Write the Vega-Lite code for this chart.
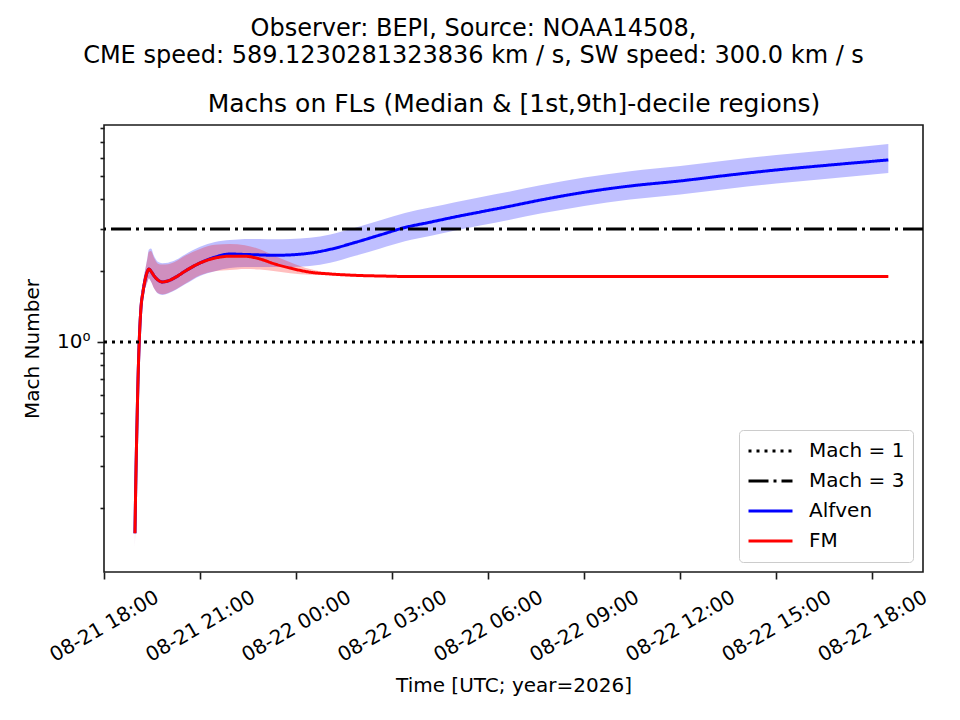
{
  "$schema": "https://vega.github.io/schema/vega-lite/v6.json",
  "width": 819,
  "height": 447,
  "autosize": {"type": "none"},
  "padding": {"left": 104, "top": 125, "right": 37, "bottom": 148},
  "config": {
    "font": "DejaVu Sans",
    "view": {"stroke": "#1a1a1a", "strokeWidth": 1.6},
    "axis": {
      "domain": false, "grid": false, "tickColor": "#1a1a1a", "tickWidth": 1.6,
      "labelFontSize": 20, "labelColor": "black", "titleFontSize": 20,
      "titleFontWeight": "normal", "titleColor": "black"
    },
    "title": {"fontSize": 24, "fontWeight": "normal", "color": "black"}
  },
  "title": {
    "text": ["Observer: BEPI, Source: NOAA14508,", "CME speed: 589.1230281323836 km / s, SW speed: 300.0 km / s"],
    "anchor": "middle", "frame": "group", "dx": -40, "lineHeight": 27, "offset": 23
  },
  "datasets": {
    "machs": [
      {"t": "2026-08-21T18:58:00Z", "series": "Alfven", "med": 0.156, "lo": 0.135, "hi": 0.17},
      {"t": "2026-08-21T19:00:00Z", "series": "Alfven", "med": 0.288, "lo": 0.27, "hi": 0.31},
      {"t": "2026-08-21T19:02:00Z", "series": "Alfven", "med": 0.469, "lo": 0.44, "hi": 0.50},
      {"t": "2026-08-21T19:04:00Z", "series": "Alfven", "med": 0.726, "lo": 0.69, "hi": 0.78},
      {"t": "2026-08-21T19:06:00Z", "series": "Alfven", "med": 1.0, "lo": 0.95, "hi": 1.07},
      {"t": "2026-08-21T19:09:00Z", "series": "Alfven", "med": 1.364, "lo": 1.30, "hi": 1.46},
      {"t": "2026-08-21T19:13:00Z", "series": "Alfven", "med": 1.625, "lo": 1.52, "hi": 1.78},
      {"t": "2026-08-21T19:17:00Z", "series": "Alfven", "med": 1.826, "lo": 1.68, "hi": 2.0},
      {"t": "2026-08-21T19:21:00Z", "series": "Alfven", "med": 1.973, "lo": 1.78, "hi": 2.25},
      {"t": "2026-08-21T19:24:00Z", "series": "Alfven", "med": 2.032, "lo": 1.85, "hi": 2.45},
      {"t": "2026-08-21T19:28:00Z", "series": "Alfven", "med": 1.99, "lo": 1.80, "hi": 2.48},
      {"t": "2026-08-21T19:34:00Z", "series": "Alfven", "med": 1.898, "lo": 1.68, "hi": 2.30},
      {"t": "2026-08-21T19:41:00Z", "series": "Alfven", "med": 1.826, "lo": 1.60, "hi": 2.18},
      {"t": "2026-08-21T19:49:00Z", "series": "Alfven", "med": 1.791, "lo": 1.578, "hi": 2.15},
      {"t": "2026-08-21T20:00:00Z", "series": "Alfven", "med": 1.81, "lo": 1.60, "hi": 2.16},
      {"t": "2026-08-21T20:15:00Z", "series": "Alfven", "med": 1.88, "lo": 1.66, "hi": 2.22},
      {"t": "2026-08-21T20:32:00Z", "series": "Alfven", "med": 1.99, "lo": 1.75, "hi": 2.34},
      {"t": "2026-08-21T21:00:00Z", "series": "Alfven", "med": 2.154, "lo": 1.90, "hi": 2.52},
      {"t": "2026-08-21T21:28:00Z", "series": "Alfven", "med": 2.28, "lo": 1.99, "hi": 2.64},
      {"t": "2026-08-21T21:56:00Z", "series": "Alfven", "med": 2.35, "lo": 2.05, "hi": 2.69},
      {"t": "2026-08-21T22:24:00Z", "series": "Alfven", "med": 2.34, "lo": 2.07, "hi": 2.72},
      {"t": "2026-08-21T22:52:00Z", "series": "Alfven", "med": 2.33, "lo": 2.07, "hi": 2.72},
      {"t": "2026-08-21T23:21:00Z", "series": "Alfven", "med": 2.32, "lo": 2.07, "hi": 2.71},
      {"t": "2026-08-21T23:49:00Z", "series": "Alfven", "med": 2.33, "lo": 2.07, "hi": 2.72},
      {"t": "2026-08-22T00:26:00Z", "series": "Alfven", "med": 2.37, "lo": 2.09, "hi": 2.75},
      {"t": "2026-08-22T01:04:00Z", "series": "Alfven", "med": 2.46, "lo": 2.16, "hi": 2.84},
      {"t": "2026-08-22T01:51:00Z", "series": "Alfven", "med": 2.63, "lo": 2.31, "hi": 3.03},
      {"t": "2026-08-22T02:38:00Z", "series": "Alfven", "med": 2.83, "lo": 2.48, "hi": 3.26},
      {"t": "2026-08-22T03:24:00Z", "series": "Alfven", "med": 3.04, "lo": 2.66, "hi": 3.50},
      {"t": "2026-08-22T04:11:00Z", "series": "Alfven", "med": 3.20, "lo": 2.80, "hi": 3.69},
      {"t": "2026-08-22T04:58:00Z", "series": "Alfven", "med": 3.37, "lo": 2.95, "hi": 3.89},
      {"t": "2026-08-22T05:45:00Z", "series": "Alfven", "med": 3.535, "lo": 3.10, "hi": 4.08},
      {"t": "2026-08-22T06:41:00Z", "series": "Alfven", "med": 3.74, "lo": 3.28, "hi": 4.31},
      {"t": "2026-08-22T07:38:00Z", "series": "Alfven", "med": 3.97, "lo": 3.48, "hi": 4.58},
      {"t": "2026-08-22T09:00:00Z", "series": "Alfven", "med": 4.28, "lo": 3.75, "hi": 4.94},
      {"t": "2026-08-22T10:26:00Z", "series": "Alfven", "med": 4.55, "lo": 3.99, "hi": 5.25},
      {"t": "2026-08-22T12:00:00Z", "series": "Alfven", "med": 4.78, "lo": 4.19, "hi": 5.52},
      {"t": "2026-08-22T13:34:00Z", "series": "Alfven", "med": 5.066, "lo": 4.44, "hi": 5.86},
      {"t": "2026-08-22T15:00:00Z", "series": "Alfven", "med": 5.317, "lo": 4.66, "hi": 6.15},
      {"t": "2026-08-22T16:41:00Z", "series": "Alfven", "med": 5.58, "lo": 4.89, "hi": 6.46},
      {"t": "2026-08-22T18:30:00Z", "series": "Alfven", "med": 5.86, "lo": 5.16, "hi": 6.85},
      {"t": "2026-08-21T18:58:00Z", "series": "FM", "med": 0.156, "lo": 0.135, "hi": 0.17},
      {"t": "2026-08-21T19:00:00Z", "series": "FM", "med": 0.288, "lo": 0.27, "hi": 0.31},
      {"t": "2026-08-21T19:02:00Z", "series": "FM", "med": 0.469, "lo": 0.44, "hi": 0.50},
      {"t": "2026-08-21T19:04:00Z", "series": "FM", "med": 0.726, "lo": 0.69, "hi": 0.78},
      {"t": "2026-08-21T19:06:00Z", "series": "FM", "med": 1.0, "lo": 0.95, "hi": 1.07},
      {"t": "2026-08-21T19:09:00Z", "series": "FM", "med": 1.364, "lo": 1.30, "hi": 1.46},
      {"t": "2026-08-21T19:13:00Z", "series": "FM", "med": 1.625, "lo": 1.52, "hi": 1.78},
      {"t": "2026-08-21T19:17:00Z", "series": "FM", "med": 1.826, "lo": 1.68, "hi": 2.0},
      {"t": "2026-08-21T19:21:00Z", "series": "FM", "med": 1.973, "lo": 1.78, "hi": 2.22},
      {"t": "2026-08-21T19:24:00Z", "series": "FM", "med": 2.032, "lo": 1.86, "hi": 2.40},
      {"t": "2026-08-21T19:28:00Z", "series": "FM", "med": 1.99, "lo": 1.80, "hi": 2.42},
      {"t": "2026-08-21T19:34:00Z", "series": "FM", "med": 1.898, "lo": 1.68, "hi": 2.26},
      {"t": "2026-08-21T19:41:00Z", "series": "FM", "med": 1.826, "lo": 1.61, "hi": 2.14},
      {"t": "2026-08-21T19:49:00Z", "series": "FM", "med": 1.791, "lo": 1.59, "hi": 2.12},
      {"t": "2026-08-21T20:00:00Z", "series": "FM", "med": 1.81, "lo": 1.61, "hi": 2.13},
      {"t": "2026-08-21T20:15:00Z", "series": "FM", "med": 1.88, "lo": 1.67, "hi": 2.19},
      {"t": "2026-08-21T20:32:00Z", "series": "FM", "med": 1.99, "lo": 1.76, "hi": 2.31},
      {"t": "2026-08-21T21:00:00Z", "series": "FM", "med": 2.154, "lo": 1.91, "hi": 2.47},
      {"t": "2026-08-21T21:28:00Z", "series": "FM", "med": 2.26, "lo": 1.99, "hi": 2.57},
      {"t": "2026-08-21T21:56:00Z", "series": "FM", "med": 2.30, "lo": 2.01, "hi": 2.59},
      {"t": "2026-08-21T22:24:00Z", "series": "FM", "med": 2.30, "lo": 2.03, "hi": 2.56},
      {"t": "2026-08-21T22:52:00Z", "series": "FM", "med": 2.24, "lo": 2.02, "hi": 2.46},
      {"t": "2026-08-21T23:21:00Z", "series": "FM", "med": 2.13, "lo": 1.99, "hi": 2.30},
      {"t": "2026-08-21T23:49:00Z", "series": "FM", "med": 2.05, "lo": 1.95, "hi": 2.17},
      {"t": "2026-08-22T00:26:00Z", "series": "FM", "med": 1.97, "lo": 1.92, "hi": 2.03},
      {"t": "2026-08-22T01:04:00Z", "series": "FM", "med": 1.936, "lo": 1.91, "hi": 1.96},
      {"t": "2026-08-22T01:51:00Z", "series": "FM", "med": 1.91, "lo": 1.89, "hi": 1.93},
      {"t": "2026-08-22T02:38:00Z", "series": "FM", "med": 1.898, "lo": 1.885, "hi": 1.91},
      {"t": "2026-08-22T03:24:00Z", "series": "FM", "med": 1.89, "lo": 1.88, "hi": 1.90},
      {"t": "2026-08-22T06:41:00Z", "series": "FM", "med": 1.89, "lo": 1.88, "hi": 1.90},
      {"t": "2026-08-22T12:00:00Z", "series": "FM", "med": 1.89, "lo": 1.88, "hi": 1.90},
      {"t": "2026-08-22T18:30:00Z", "series": "FM", "med": 1.89, "lo": 1.88, "hi": 1.90}
    ],
    "levels": [
      {"series": "Mach = 1", "mach": 1},
      {"series": "Mach = 3", "mach": 3}
    ]
  },
  "layer": [
    {
      "data": {"name": "machs"},
      "mark": {"type": "area", "fillOpacity": 0.25, "interpolate": "monotone"},
      "encoding": {
        "x": {
          "field": "t", "type": "temporal",
          "scale": {"type": "utc", "domain": [
            {"year": 2026, "month": 8, "date": 21, "hours": 18, "utc": true},
            {"year": 2026, "month": 8, "date": 22, "hours": 19, "minutes": 35, "utc": true}
          ]},
          "axis": {
            "title": "Time [UTC; year=2026]", "format": "%m-%d %H:%M",
            "values": [
              {"year": 2026, "month": 8, "date": 21, "hours": 18, "utc": true},
              {"year": 2026, "month": 8, "date": 21, "hours": 21, "utc": true},
              {"year": 2026, "month": 8, "date": 22, "hours": 0, "utc": true},
              {"year": 2026, "month": 8, "date": 22, "hours": 3, "utc": true},
              {"year": 2026, "month": 8, "date": 22, "hours": 6, "utc": true},
              {"year": 2026, "month": 8, "date": 22, "hours": 9, "utc": true},
              {"year": 2026, "month": 8, "date": 22, "hours": 12, "utc": true},
              {"year": 2026, "month": 8, "date": 22, "hours": 15, "utc": true},
              {"year": 2026, "month": 8, "date": 22, "hours": 18, "utc": true}
            ],
            "labelAngle": -30, "labelAlign": "center", "labelBaseline": "middle",
            "tickSize": 7, "labelPadding": 47, "titlePadding": 10,
            "labelFlush": false, "labelOverlap": false
          }
        },
        "y": {
          "field": "lo", "type": "quantitative",
          "scale": {"type": "log", "domain": [0.107, 8.23], "nice": false},
          "axis": {
            "title": "Mach Number", "values": [1], "labelExpr": "'10⁰'",
            "tickSize": 7, "labelPadding": 7, "titlePadding": 14
          }
        },
        "y2": {"field": "hi"},
        "fill": {
          "field": "series", "type": "nominal",
          "scale": {"domain": ["Alfven", "FM"], "range": ["#0000ff", "#ff0000"]},
          "legend": null
        }
      }
    },
    {
      "data": {"name": "machs"},
      "mark": {"type": "line", "strokeWidth": 3, "interpolate": "monotone"},
      "encoding": {
        "x": {
          "field": "t", "type": "temporal",
          "axis": {
            "orient": "top", "title": "Machs on FLs (Median & [1st,9th]-decile regions)",
            "labels": false, "ticks": false, "titleFontSize": 25, "titlePadding": 9
          }
        },
        "y": {
          "field": "med", "type": "quantitative",
          "axis": {
            "orient": "left", "title": null, "labels": false, "tickSize": 4,
            "values": [0.2, 0.3, 0.4, 0.5, 0.6, 0.7, 0.8, 0.9, 2, 3, 4, 5, 6, 7, 8]
          }
        },
        "color": {
          "field": "series", "type": "nominal",
          "scale": {"domain": ["Mach = 1", "Mach = 3", "Alfven", "FM"], "range": ["black", "black", "#0000ff", "#ff0000"]},
          "legend": {
            "title": null, "orient": "bottom-right", "offset": 10, "fillColor": "white",
            "strokeColor": "#cccccc", "cornerRadius": 4, "padding": 8, "labelFontSize": 20,
            "labelColor": "black", "symbolType": "stroke", "symbolSize": 1936,
            "symbolStrokeWidth": 3, "clipHeight": 26, "rowPadding": 4, "labelOffset": 15
          }
        },
        "strokeDash": {
          "field": "series", "type": "nominal",
          "scale": {"domain": ["Mach = 1", "Mach = 3", "Alfven", "FM"], "range": [[3, 5], [20, 5, 3, 5], [1, 0], [1, 0]]},
          "legend": {
            "title": null, "orient": "bottom-right", "offset": 10, "fillColor": "white",
            "strokeColor": "#cccccc", "cornerRadius": 4, "padding": 8, "labelFontSize": 20,
            "labelColor": "black", "symbolType": "stroke", "symbolSize": 1936,
            "symbolStrokeWidth": 3, "clipHeight": 26, "rowPadding": 4, "labelOffset": 15
          }
        }
      }
    },
    {
      "data": {"name": "levels"},
      "mark": {"type": "rule", "strokeWidth": 3, "strokeCap": "butt"},
      "encoding": {
        "y": {"field": "mach", "type": "quantitative", "axis": null},
        "color": {"field": "series", "type": "nominal"},
        "strokeDash": {"field": "series", "type": "nominal"}
      }
    }
  ],
  "resolve": {"axis": {"x": "independent", "y": "independent"}}
}
